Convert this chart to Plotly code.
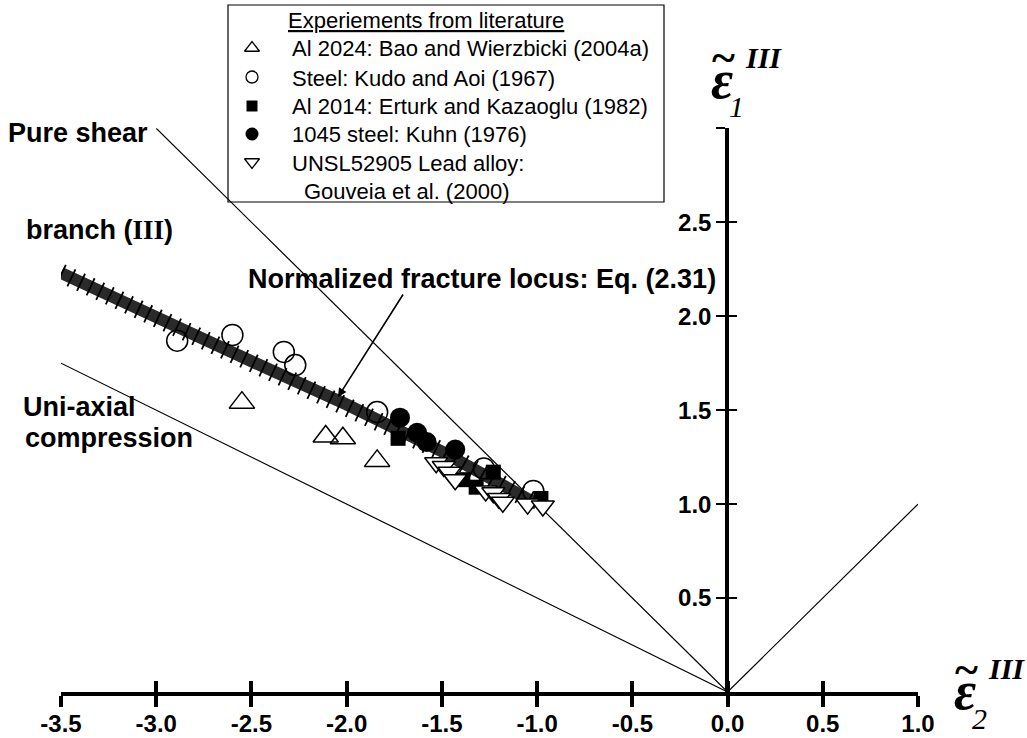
import plotly.graph_objects as go

W, H = 1027, 738

# ---------------- data ----------------
x_ticks = [-3.5, -3.0, -2.5, -2.0, -1.5, -1.0, -0.5, 0.0, 0.5, 1.0]
x_ticktext = ["-3.5", "-3.0", "-2.5", "-2.0", "-1.5", "-1.0", "-0.5", "0.0", "0.5", "1.0"]
y_ticks = [0.5, 1.0, 1.5, 2.0, 2.5, 3.0]
y_ticktext = ["0.5", "1.0", "1.5", "2.0", "2.5", ""]

# normalized fracture locus, branch (III)
locus_x = [-3.5, -3.0, -2.5, -2.0, -1.5, -1.0]
locus_y = [2.23, 1.99, 1.76, 1.53, 1.28, 1.0]

# reference loading lines
shear_x = [-3.0, 0.0]
shear_y = [3.0, 0.0]
uniax_x = [-3.5, 0.0]
uniax_y = [1.75, 0.0]
equi_x = [0.0, 1.0]
equi_y = [0.0, 1.0]

# experiments
bao_x = [-2.55, -2.11, -2.02, -1.84]
bao_y = [1.54, 1.36, 1.35, 1.23]

kudo_x = [-2.89, -2.60, -2.33, -2.27, -1.84, -1.28, -1.02]
kudo_y = [1.87, 1.90, 1.81, 1.74, 1.49, 1.19, 1.07]

erturk_x = [-1.73, -1.39, -1.32, -1.23, -0.98]
erturk_y = [1.35, 1.13, 1.09, 1.17, 1.03]

kuhn_x = [-1.72, -1.63, -1.58, -1.43]
kuhn_y = [1.46, 1.38, 1.33, 1.29]

gouveia_x = [-1.53, -1.49, -1.46, -1.43, -1.27, -1.23, -1.20, -1.18, -1.05, -0.97]
gouveia_y = [1.22, 1.20, 1.17, 1.13, 1.07, 1.06, 1.03, 1.01, 1.00, 0.99]

legend_title = "Experiements from literature"
legend_labels = [
    "Al 2024: Bao and Wierzbicki (2004a)",
    "Steel: Kudo and Aoi (1967)",
    "Al 2014: Erturk and Kazaoglu (1982)",
    "1045 steel: Kuhn (1976)",
    "UNSL52905 Lead alloy:",
]
legend_label_cont = "Gouveia et al. (2000)"

# ---------------- layout helpers ----------------
X0_PX, X1_PX = 61, 918          # pixel of x = -3.5 and x = 1.0
Y0_PX, Y3_PX = 692, 128.3       # pixel of y = 0 and y = 3.0
XMIN, XMAX = -3.5, 1.0
YMIN, YMAX = 0.0, 3.0


def px(x):
    return x / W


def py(y):
    return 1 - y / H


SANS = "Liberation Sans"
SERIF = "Liberation Serif"
BLACK = "black"

fig = go.Figure()

# reference lines
for lx, ly in [(shear_x, shear_y), (uniax_x, uniax_y), (equi_x, equi_y)]:
    fig.add_trace(go.Scatter(x=lx, y=ly, mode="lines",
                             line=dict(color=BLACK, width=1.2),
                             hoverinfo="skip", showlegend=False))

# fracture locus band + hatching
fig.add_trace(go.Scatter(x=locus_x, y=locus_y, mode="lines",
                         line=dict(color="#2a2a2a", width=12),
                         hoverinfo="skip", showlegend=False))
fig.add_trace(go.Scatter(x=locus_x, y=locus_y, mode="lines",
                         line=dict(color=BLACK, width=19, dash="1.8px,8.8px"),
                         hoverinfo="skip", showlegend=False))

# experiments
fig.add_trace(go.Scatter(x=bao_x, y=bao_y, mode="markers", name=legend_labels[0],
                         marker=dict(symbol="triangle-up", size=22, color="rgba(0,0,0,0)",
                                     line=dict(color=BLACK, width=1.5)),
                         showlegend=False))
fig.add_trace(go.Scatter(x=kudo_x, y=kudo_y, mode="markers", name=legend_labels[1],
                         marker=dict(symbol="circle", size=21, color="rgba(0,0,0,0)",
                                     line=dict(color=BLACK, width=1.5)),
                         showlegend=False))
fig.add_trace(go.Scatter(x=kuhn_x, y=kuhn_y, mode="markers", name=legend_labels[3],
                         marker=dict(symbol="circle", size=20, color=BLACK,
                                     line=dict(color=BLACK, width=0)),
                         showlegend=False))
fig.add_trace(go.Scatter(x=erturk_x, y=erturk_y, mode="markers", name=legend_labels[2],
                         marker=dict(symbol="square", size=15, color=BLACK,
                                     line=dict(color=BLACK, width=0)),
                         showlegend=False))
fig.add_trace(go.Scatter(x=gouveia_x, y=gouveia_y, mode="markers", name=legend_labels[4],
                         marker=dict(symbol="triangle-down", size=20, color="white",
                                     line=dict(color=BLACK, width=1.5)),
                         showlegend=False))

# ---------------- manual legend (drawn on a full-figure pixel overlay) ----------------
LEG_L, LEG_R, LEG_T, LEG_B = 228, 664, 5, 202
row_y = [48, 77, 106, 134, 162]
sym_x = 252
leg_styles = [
    dict(symbol="triangle-up", size=13, color="white", line=dict(color=BLACK, width=1.3)),
    dict(symbol="circle", size=12, color="white", line=dict(color=BLACK, width=1.3)),
    dict(symbol="square", size=11, color=BLACK, line=dict(color=BLACK, width=0)),
    dict(symbol="circle", size=13, color=BLACK, line=dict(color=BLACK, width=0)),
    dict(symbol="triangle-down", size=13, color="white", line=dict(color=BLACK, width=1.3)),
]
for ry, st in zip(row_y, leg_styles):
    fig.add_trace(go.Scatter(x=[sym_x], y=[ry], xaxis="x3", yaxis="y3", mode="markers",
                             marker=st, hoverinfo="skip", showlegend=False))

annotations = []
annotations.append(dict(x=px(426), y=py(21), xref="paper", yref="paper",
                        text="<u>" + legend_title + "</u>", showarrow=False,
                        xanchor="center", yanchor="middle",
                        font=dict(family=SANS, size=22, color=BLACK)))
for ry, lab in zip(row_y, legend_labels):
    annotations.append(dict(x=px(290), y=py(ry + 1), xref="paper", yref="paper", text=lab,
                            showarrow=False, xanchor="left", yanchor="middle",
                            font=dict(family=SANS, size=22, color=BLACK)))
annotations.append(dict(x=px(302), y=py(191), xref="paper", yref="paper", text=legend_label_cont,
                        showarrow=False, xanchor="left", yanchor="middle",
                        font=dict(family=SANS, size=22, color=BLACK)))

shapes = [dict(type="rect", xref="paper", yref="paper",
               x0=px(LEG_L), x1=px(LEG_R), y0=py(LEG_B), y1=py(LEG_T),
               line=dict(color=BLACK, width=1.2), fillcolor="rgba(0,0,0,0)", layer="below")]

# ---------------- text labels ----------------
bold_font = dict(family=SANS, size=27, color=BLACK, weight="bold")


def label(text, x, y, anchor="left"):
    annotations.append(dict(x=px(x), y=py(y), xref="paper", yref="paper", text=text,
                            showarrow=False, xanchor=anchor, yanchor="middle", font=bold_font))


label("Pure shear", 6, 133)
label("branch (<span style='font-family:Liberation Serif'>III</span>)", 24, 230)
label("Uni-axial", 21, 407)
label("compression", 23, 438)
label("Normalized fracture locus: Eq. (2.31)", 246, 279)

# arrow to the locus (pixel overlay axes)
annotations.append(dict(x=338, y=397, ax=404, ay=293,
                        xref="x3", yref="y3", axref="x3", ayref="y3", text="",
                        showarrow=True, arrowhead=2, arrowsize=1.1, arrowwidth=1.6,
                        arrowcolor=BLACK))


# axis symbols (epsilon with tilde)
def eps_label(cx, cy, sub):
    annotations.append(dict(x=px(cx + 1), y=py(cy - 27), xref="paper", yref="paper", text="~",
                            showarrow=False, xanchor="center", yanchor="middle",
                            font=dict(family=SERIF, size=44, color=BLACK, weight="bold")))
    annotations.append(dict(x=px(cx), y=py(cy - 5), xref="paper", yref="paper", text="<i>ε</i>",
                            showarrow=False, xanchor="center", yanchor="middle",
                            font=dict(family=SERIF, size=54, color=BLACK, weight="bold")))
    annotations.append(dict(x=px(cx + 41), y=py(cy - 28), xref="paper", yref="paper",
                            text="<i>III</i>", showarrow=False, xanchor="center",
                            yanchor="middle",
                            font=dict(family=SERIF, size=30, color=BLACK, weight="bold")))
    annotations.append(dict(x=px(cx + 14), y=py(cy + 22), xref="paper", yref="paper",
                            text="<i>" + sub + "</i>", showarrow=False, xanchor="center",
                            yanchor="middle",
                            font=dict(family=SERIF, size=30, color=BLACK)))


eps_label(722, 85, "1")
eps_label(965, 696, "2")

# ---------------- axes ----------------
xdom = [X0_PX / W, X1_PX / W]
ydom = [1 - Y0_PX / H, 1 - Y3_PX / H]
ypos = 727 / W
tick_font = dict(family=SANS, size=24, color=BLACK, weight="bold")

# dummy invisible traces to attach overlay axes
fig.add_trace(go.Scatter(x=[0], y=[0], xaxis="x2", yaxis="y", mode="markers",
                         marker=dict(opacity=0), hoverinfo="skip", showlegend=False))
fig.add_trace(go.Scatter(x=[0], y=[0], xaxis="x", yaxis="y2", mode="markers",
                         marker=dict(opacity=0), hoverinfo="skip", showlegend=False))

fig.update_layout(
    width=W, height=H,
    margin=dict(l=0, r=0, t=0, b=0, autoexpand=False),
    paper_bgcolor="white", plot_bgcolor="rgba(0,0,0,0)",
    showlegend=False,
    xaxis=dict(domain=xdom, range=[XMIN, XMAX], anchor="y",
               showline=True, linecolor=BLACK, linewidth=3.5,
               ticks="outside", ticklen=11, tickwidth=3.5, tickcolor=BLACK,
               tickvals=x_ticks, ticktext=x_ticktext, tickfont=tick_font,
               ticklabelstandoff=-4,
               showgrid=False, zeroline=False, fixedrange=True),
    xaxis2=dict(domain=xdom, range=[XMIN, XMAX], anchor="y", overlaying="x",
                showline=False, ticks="inside", ticklen=11, tickwidth=3.5, tickcolor=BLACK,
                tickvals=x_ticks, showticklabels=False,
                showgrid=False, zeroline=False, fixedrange=True),
    yaxis=dict(domain=ydom, range=[YMIN, YMAX], anchor="free", position=ypos, side="left",
               showline=True, linecolor=BLACK, linewidth=3.5,
               ticks="outside", ticklen=9, tickwidth=1.5, tickcolor=BLACK,
               tickvals=y_ticks, ticktext=y_ticktext, tickfont=tick_font,
               showgrid=False, zeroline=False, fixedrange=True),
    yaxis2=dict(domain=ydom, range=[YMIN, YMAX], anchor="free", position=ypos, side="left",
                overlaying="y", showline=False,
                ticks="inside", ticklen=9, tickwidth=1.5, tickcolor=BLACK,
                tickvals=y_ticks, showticklabels=False,
                showgrid=False, zeroline=False, fixedrange=True),
    xaxis3=dict(domain=[0, 1], range=[0, W], anchor="y3", visible=False, fixedrange=True),
    yaxis3=dict(domain=[0, 1], range=[H, 0], anchor="x3", visible=False, fixedrange=True),
    annotations=annotations,
    shapes=shapes,
)

fig.write_html("out.html")
